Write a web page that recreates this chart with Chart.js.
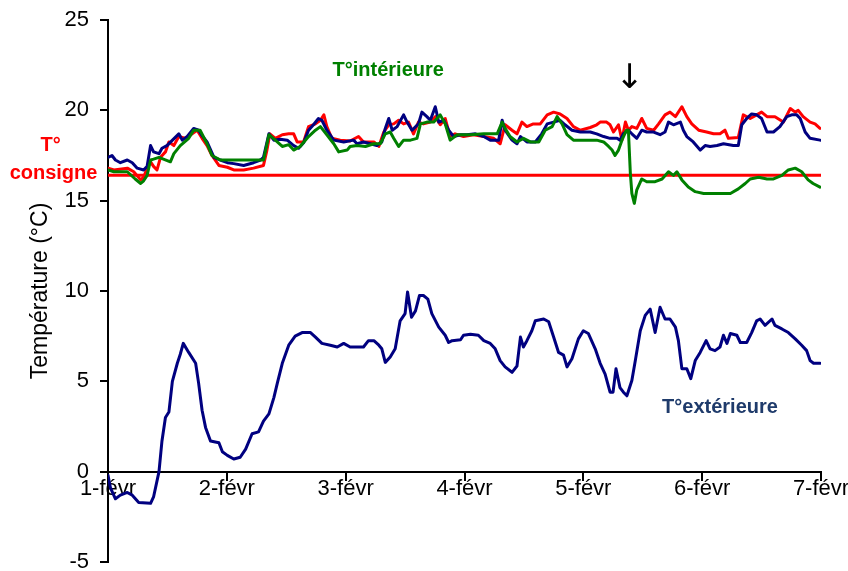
<!DOCTYPE html>
<html>
<head>
<meta charset="utf-8">
<script src="https://cdn.jsdelivr.net/npm/chart.js@4/dist/chart.umd.min.js"></script>
<style>
  html, body { margin: 0; padding: 0; background: #fff; }
  #c { display: block; }
</style>
</head>
<body>
<canvas id="c" width="848" height="571"></canvas>
<script>
// Day labels on the time axis (one tick every 24 h)
const dayLabels = ['1-févr', '2-févr', '3-févr', '4-févr', '5-févr', '6-févr', '7-févr'];
const yTicks = [-5, 0, 5, 10, 15, 20, 25];

// Heating setpoint (°C)
const setpointTemp = 16.4;

// [hours since 1 Feb 00:00, °C] — outdoor temperature
const outdoor = [
  [0,-0.2],[0.5,-0.9],[1.5,-1.5],[2.5,-1.3],[3.9,-1.15],[4.9,-1.3],[6.2,-1.7],[8.6,-1.75],[9.2,-1.4],[10.3,0.0],
  [10.9,1.7],[11.6,3.0],[12.3,3.3],[13.0,5.0],[14.0,6.0],[14.6,6.5],[15.2,7.1],[16.3,6.6],[17.7,6.0],[18.3,4.9],
  [19.0,3.4],[19.7,2.45],[20.7,1.7],[22.4,1.6],[23.1,1.1],[24.1,0.9],[25.4,0.7],[26.7,0.8],[27.8,1.25],[29.1,2.1],
  [30.4,2.2],[31.4,2.8],[32.5,3.2],[33.5,4.1],[34.2,4.9],[35.2,6.0],[36.5,7.0],[37.8,7.5],[39.2,7.7],[40.9,7.7],
  [41.9,7.45],[43.2,7.1],[44.9,7.0],[46.3,6.9],[47.6,7.1],[48.9,6.9],[51.6,6.9],[52.6,7.25],[53.7,7.25],[54.7,7.0],
  [55.3,6.8],[56.0,6.05],[57.0,6.35],[58.0,6.8],[59.0,8.35],[60.0,8.75],[60.5,9.95],[61.3,8.55],[62.1,8.9],[62.9,9.75],
  [63.7,9.75],[64.6,9.55],[65.4,8.75],[66.8,8.0],[68.1,7.55],[68.8,7.15],[69.5,7.25],[71.2,7.3],[71.8,7.55],[73.2,7.6],
  [74.8,7.55],[75.9,7.25],[77.2,7.1],[78.2,6.8],[79.2,6.15],[80.2,5.8],[81.6,5.5],[82.6,5.85],[83.3,7.45],[83.9,6.9],
  [84.6,7.25],[85.6,7.8],[86.3,8.35],[88.0,8.45],[89.0,8.3],[90.0,7.45],[91.0,6.6],[92.0,6.45],[92.7,5.8],[93.7,6.25],
  [95.0,7.35],[96.0,7.8],[97.0,7.65],[98.4,6.8],[99.4,6.0],[100.4,5.4],[101.4,4.4],[102.0,4.4],[102.6,5.7],[103.4,4.65],
  [104.1,4.4],[104.8,4.2],[105.8,5.05],[106.5,6.15],[107.5,7.8],[108.5,8.65],[109.5,9.0],[110.5,7.7],[111.5,9.1],[112.5,8.45],
  [113.5,8.45],[114.6,8.0],[115.2,7.25],[115.9,5.7],[116.9,5.7],[117.7,5.15],[118.6,6.15],[119.6,6.6],[120.8,7.25],[121.6,6.8],
  [122.6,6.7],[123.6,6.9],[124.3,7.55],[125.0,7.1],[125.7,7.65],[127.0,7.55],[127.7,7.15],[129.0,7.15],[130.0,7.7],[131.0,8.35],
  [131.7,8.45],[132.7,8.1],[134.1,8.45],[134.7,8.1],[136.1,7.9],[137.4,7.7],[138.8,7.35],[140.1,7.0],[141.1,6.7],[141.8,6.15],
  [142.5,6.0],[143.8,6.0]
];

// Indoor probe 1 (navy)
const indoorNavy = [
  [0,17.4],[0.8,17.5],[1.5,17.25],[2.5,17.1],[3.9,17.25],[4.9,17.1],[5.9,16.8],[7.2,16.7],[7.9,16.9],[8.6,18.05],
  [9.2,17.7],[10.3,17.6],[10.9,17.9],[11.9,18.05],[14.3,18.7],[15.0,18.35],[16.0,18.55],[17.3,19.0],[18.3,18.9],[19.0,18.6],
  [20.0,18.25],[21.4,17.4],[22.7,17.25],[24.1,17.1],[25.4,17.05],[27.4,16.95],[29.4,17.1],[30.8,17.25],[31.4,17.4],[32.5,18.7],
  [33.5,18.35],[34.8,18.4],[36.2,18.35],[37.5,18.05],[38.5,17.9],[39.5,18.2],[40.5,18.9],[41.5,19.2],[42.5,19.55],[43.2,19.45],
  [44.2,18.9],[45.6,18.35],[47.6,18.25],[49.6,18.35],[50.3,18.15],[51.6,18.25],[53.0,18.15],[54.3,18.05],[55.3,18.25],[56.0,19.0],
  [56.7,19.55],[57.4,18.9],[58.4,19.1],[59.7,19.75],[60.4,19.35],[61.4,18.9],[62.7,19.25],[63.4,19.9],[64.4,19.65],[65.1,19.45],
  [66.1,20.2],[66.8,19.35],[67.8,19.45],[68.8,18.9],[69.8,18.55],[71.2,18.65],[72.5,18.65],[74.2,18.7],[75.9,18.55],[77.2,18.35],
  [78.9,18.35],[79.6,19.45],[80.2,18.9],[81.6,18.35],[82.6,18.15],[83.3,18.55],[84.6,18.25],[86.3,18.25],[87.6,18.7],[88.7,19.25],
  [90.0,19.35],[91.3,19.45],[92.3,19.2],[93.7,18.9],[95.4,18.8],[97.4,18.8],[98.7,18.7],[100.1,18.55],[101.4,18.45],[102.8,18.45],
  [103.4,18.35],[104.1,18.7],[105.1,18.9],[105.8,18.7],[106.8,18.45],[107.8,18.9],[108.8,18.8],[110.2,18.8],[111.5,18.65],[112.5,18.8],
  [113.2,19.35],[114.2,19.2],[115.6,19.35],[116.2,18.9],[116.9,18.55],[118.2,18.25],[119.6,17.8],[120.6,18.05],[121.6,18.0],[123.0,18.05],
  [124.3,18.15],[126.3,18.05],[127.3,18.05],[128.0,19.2],[129.0,19.55],[130.0,19.8],[131.0,19.75],[132.0,19.55],[133.1,18.8],[134.4,18.8],
  [135.7,19.1],[137.1,19.65],[138.1,19.75],[139.1,19.75],[139.8,19.55],[140.8,18.8],[141.8,18.45],[143.8,18.35]
];

// Indoor probe 2 (green)
const indoorGreen = [
  [0,16.7],[1.2,16.6],[3.9,16.6],[5.5,16.2],[6.6,15.95],[7.2,16.1],[7.9,16.4],[8.6,17.25],[9.2,17.3],[10.3,17.4],
  [12.6,17.15],[13.3,17.6],[14.6,18.05],[16.3,18.45],[17.3,18.9],[18.6,18.9],[20.0,18.15],[21.0,17.5],[22.7,17.25],[31.4,17.25],
  [32.5,18.65],[33.8,18.35],[35.2,18.0],[36.5,18.1],[37.5,17.8],[38.8,18.0],[40.5,18.55],[41.9,18.9],[42.9,19.1],[44.2,18.65],
  [45.6,18.15],[46.6,17.7],[48.3,17.8],[48.9,18.0],[50.3,18.05],[52.0,18.0],[53.7,18.15],[55.0,18.15],[56.0,18.7],[57.0,18.8],
  [57.7,18.45],[58.7,18.0],[59.7,18.35],[61.1,18.35],[62.4,18.45],[63.1,19.25],[64.4,19.35],[65.8,19.35],[67.1,19.75],[68.1,19.25],
  [69.1,18.35],[70.5,18.65],[73.2,18.65],[75.9,18.7],[78.6,18.7],[79.6,19.35],[80.2,19.0],[81.2,18.55],[82.6,18.25],[83.9,18.45],
  [85.3,18.25],[87.0,18.25],[88.3,18.9],[89.7,19.1],[90.7,19.65],[91.7,19.25],[92.7,18.65],[94.0,18.35],[98.7,18.35],[100.1,18.25],
  [101.1,18.0],[101.8,17.8],[102.4,17.5],[103.1,17.8],[103.8,18.35],[104.7,18.9],[105.1,18.9],[105.5,16.5],[105.8,15.4],[106.3,14.85],
  [106.8,15.6],[107.8,16.2],[108.8,16.05],[110.5,16.05],[111.9,16.2],[113.2,16.6],[114.2,16.4],[114.9,16.6],[115.9,16.15],[117.2,15.75],
  [118.6,15.5],[120.3,15.4],[125.7,15.4],[127.3,15.65],[128.7,15.95],[129.7,16.2],[131.4,16.3],[133.1,16.2],[134.4,16.2],[136.1,16.4],
  [137.4,16.7],[138.8,16.8],[140.1,16.6],[141.4,16.15],[142.4,15.95],[143.8,15.75]
];

// Indoor probe 3 (red)
const indoorRed = [
  [0,16.8],[1.2,16.7],[3.9,16.8],[5.2,16.6],[6.6,16.15],[7.2,16.3],[7.9,16.8],[8.6,17.15],[9.2,16.9],[9.9,16.7],
  [10.6,17.4],[11.6,17.7],[12.3,18.25],[13.3,18.05],[14.3,18.55],[15.7,18.45],[17.0,18.7],[18.0,18.9],[19.0,18.45],[20.0,18.05],
  [21.0,17.5],[22.4,16.95],[24.1,16.85],[25.4,16.7],[27.4,16.7],[29.4,16.8],[31.4,16.95],[32.1,17.8],[32.7,18.7],[33.8,18.45],
  [35.2,18.65],[36.5,18.7],[37.5,18.7],[38.2,18.25],[39.5,18.25],[40.5,19.1],[41.9,19.25],[42.9,19.45],[43.6,19.75],[44.2,19.1],
  [45.2,18.45],[46.9,18.35],[48.9,18.3],[50.6,18.55],[51.6,18.25],[53.7,18.25],[54.7,18.0],[55.7,18.8],[56.7,19.2],[57.7,19.25],
  [58.7,19.45],[59.7,19.25],[60.7,19.35],[61.7,18.7],[62.7,19.35],[63.7,19.25],[65.1,19.35],[66.1,19.65],[67.1,19.2],[68.1,19.55],
  [69.1,18.55],[70.1,18.7],[71.8,18.55],[73.8,18.65],[75.9,18.55],[77.9,18.45],[79.2,18.15],[80.2,19.2],[81.6,18.9],[82.6,18.7],
  [83.6,19.35],[84.6,19.1],[85.9,19.25],[87.3,19.25],[88.7,19.75],[90.0,19.9],[91.3,19.8],[92.7,19.55],[94.0,19.1],[95.4,18.9],
  [97.4,19.05],[98.7,19.2],[99.4,19.35],[100.7,19.35],[101.4,19.2],[102.1,18.8],[103.1,19.2],[103.8,18.35],[104.5,19.35],[105.1,18.9],
  [105.8,19.1],[106.8,19.0],[107.8,19.55],[108.8,19.0],[110.2,18.9],[111.2,19.25],[112.5,19.75],[113.5,19.9],[114.6,19.65],[115.9,20.2],
  [116.9,19.65],[117.9,19.25],[119.3,18.9],[120.9,18.8],[122.3,18.7],[123.6,18.7],[124.6,18.9],[125.3,18.45],[127.3,18.5],[128.3,19.75],
  [129.7,19.55],[131.0,19.75],[132.0,19.9],[133.1,19.65],[134.7,19.65],[136.4,19.35],[137.8,20.1],[138.8,19.9],[139.4,20.0],[140.4,19.65],
  [141.8,19.35],[142.8,19.25],[143.8,19.0]
];

const HOURS_PER_DAY = 24;
const lastHour = (dayLabels.length - 1) * HOURS_PER_DAY;
const toPoints = (pairs) => pairs.map(([x, y]) => ({ x, y }));

const NAVY = '#000080', GREEN = '#008000', RED = '#FF0000';
const FONT = 'Arial, "Liberation Sans", sans-serif';

function series(pairs, color, width) {
  return {
    data: toPoints(pairs),
    borderColor: color,
    backgroundColor: color,
    borderWidth: width,
    pointRadius: 0,
    pointHoverRadius: 0,
    tension: 0,
    fill: false,
    borderJoinStyle: 'round',
    borderCapStyle: 'round'
  };
}

// Text callouts, placed in data units (hours, °C)
const callouts = [
  { text: 'T°intérieure', x: 56.6, y: 22.2, color: GREEN, font: 'bold 20px ' + FONT },
  { text: 'T°extérieure', x: 123.6, y: 3.55, color: '#1F3B6B', font: 'bold 20px ' + FONT },
  { text: 'T°', x: -11.6, y: 18.05, color: RED, font: 'bold 20px ' + FONT },
  { text: 'consigne', x: -11.0, y: 16.5, color: RED, font: 'bold 20px ' + FONT },
  { text: '↓', x: 105.3, y: 21.75, color: '#000000', font: '34px "DejaVu Sans", sans-serif' }
];

const calloutPlugin = {
  id: 'callouts',
  afterDraw(chart) {
    const { ctx, scales } = chart;
    ctx.save();
    ctx.textAlign = 'center';
    ctx.textBaseline = 'middle';
    callouts.forEach(c => {
      ctx.font = c.font;
      ctx.fillStyle = c.color;
      ctx.fillText(c.text, scales.x.getPixelForValue(c.x), scales.y.getPixelForValue(c.y));
    });
    ctx.restore();
  }
};

new Chart(document.getElementById('c'), {
  type: 'line',
  data: {
    datasets: [
      series(indoorGreen, GREEN, 3),
      series(indoorNavy, NAVY, 3),
      series(indoorRed, RED, 3),
      series([[0, setpointTemp], [lastHour, setpointTemp]], RED, 3),
      series(outdoor, NAVY, 3)
    ]
  },
  options: {
    responsive: false,
    animation: false,
    devicePixelRatio: 1,
    layout: { padding: { left: 0, right: 27, top: 20, bottom: 9 } },
    plugins: { legend: { display: false }, tooltip: { enabled: false } },
    scales: {
      x: {
        type: 'linear',
        position: { y: 0 },
        min: 0,
        max: lastHour,
        afterBuildTicks: (s) => { s.ticks = dayLabels.map((_, i) => ({ value: i * HOURS_PER_DAY })); },
        afterFit: (s) => { s.paddingLeft = 0; s.paddingRight = 0; },
        ticks: {
          autoSkip: false,
          maxRotation: 0,
          padding: -4,
          color: '#000',
          font: { family: FONT, size: 22 },
          callback: (v) => dayLabels[Math.round(v / HOURS_PER_DAY)]
        },
        grid: { drawOnChartArea: false, drawTicks: true, tickLength: 8, color: '#000', lineWidth: 2 },
        border: { display: true, color: '#000', width: 2 }
      },
      y: {
        type: 'linear',
        position: 'left',
        min: yTicks[0],
        max: yTicks[yTicks.length - 1],
        afterBuildTicks: (s) => { s.ticks = yTicks.map(v => ({ value: v })); },
        afterFit: (s) => { s.width = 108; s.paddingTop = 0; s.paddingBottom = 0; },
        ticks: {
          padding: 11,
          color: '#000',
          font: { family: FONT, size: 22 }
        },
        grid: { drawOnChartArea: false, drawTicks: true, tickLength: 8, color: '#000', lineWidth: 2 },
        border: { display: true, color: '#000', width: 2 },
        title: {
          display: true,
          text: 'Température (°C)',
          color: '#000',
          font: { family: FONT, size: 23 },
          padding: { top: 27, bottom: 0 }
        }
      }
    }
  },
  plugins: [calloutPlugin]
});
</script>
</body>
</html>
